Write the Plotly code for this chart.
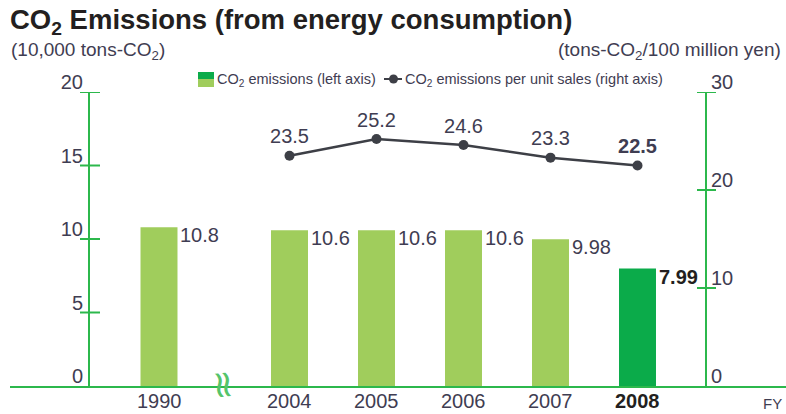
import plotly.graph_objects as go

# ---- data -------------------------------------------------------------
years = ["1990", "2004", "2005", "2006", "2007", "2008"]
emissions = [10.8, 10.6, 10.6, 10.6, 9.98, 7.99]          # 10,000 tons-CO2
intensity_years = ["2004", "2005", "2006", "2007", "2008"]
intensity = [23.5, 25.2, 24.6, 23.3, 22.5]                 # tons-CO2 / 100 million yen
left_ticks = [0, 5, 10, 15, 20]
right_ticks = [0, 10, 20, 30]

# ---- layout helpers ---------------------------------------------------
W, H = 786, 414
ML, MR, MT, MB = 10, 0, 92, 28
PW, PH = W - ML - MR, H - MT - MB


def px(x):
    return (x - ML) / PW


def py(y):
    return (H - MB - y) / PH


# 1990 sits apart from the consecutive years, with an axis break between
pos = {yr: (i + 0.5 if i > 0 else 0.0) for i, yr in enumerate(years)}
bar_x = [pos[y] for y in years]
line_x = [pos[y] for y in intensity_years]
BAR_W = 0.425

LIGHT = "#a0cd5c"
DARK = "#0bab4a"
AXIS = "#2cb84c"
TXT = "#3f3d52"
FONT = "Liberation Sans, Arial"

fig = go.Figure()

fig.add_trace(go.Bar(
    x=bar_x, y=emissions, width=BAR_W,
    marker=dict(color=[DARK if y == "2008" else LIGHT for y in years], line=dict(width=0)),
    showlegend=False, hoverinfo="skip",
))

fig.add_trace(go.Scatter(
    x=line_x, y=intensity, yaxis="y2", mode="lines+markers+text",
    line=dict(color="#3d3f46", width=2.5),
    marker=dict(color="#3d3f46", size=10),
    text=[f"<b>{v}</b>" if y == "2008" else f"{v}" for y, v in zip(intensity_years, intensity)],
    textposition="top center",
    textfont=dict(family=FONT, size=20, color=TXT),
    showlegend=False, hoverinfo="skip",
))

ann = []
# value labels beside the bars
for yr, v in zip(years, emissions):
    bold = yr == "2008"
    ann.append(dict(
        x=pos[yr] + BAR_W / 2, y=v, xref="x", yref="y",
        text=f"<b>{v}</b>" if bold else f"{v}", showarrow=False,
        xanchor="left", yanchor="top", xshift=1, yshift=5,
        font=dict(family=FONT, size=20, color="#231f20" if bold else TXT),
    ))

# category labels under the baseline
for yr in years:
    bold = yr == "2008"
    ann.append(dict(
        x=pos[yr], y=py(401), xref="x", yref="paper",
        text=f"<b>{yr}</b>" if bold else yr, showarrow=False,
        xanchor="center", yanchor="middle",
        font=dict(family=FONT, size=20, color="#231f20" if bold else TXT),
    ))
ann.append(dict(x=px(784), y=py(403), xref="paper", yref="paper", text="FY",
                showarrow=False, xanchor="right", yanchor="middle",
                font=dict(family=FONT, size=15, color=TXT)))

# axis-break mark
ann.append(dict(x=(pos["1990"] + pos["2004"]) / 2, y=py(385), xref="x", yref="paper",
                text="≈", textangle=84, showarrow=False,
                xanchor="center", yanchor="middle",
                font=dict(family="DejaVu Sans", size=38, color="#55c46a")))

# titles
ann.append(dict(x=px(8), y=py(22), xref="paper", yref="paper",
                text="<b>CO<sub>2</sub> Emissions (from energy consumption)</b>",
                showarrow=False, xanchor="left", yanchor="middle",
                font=dict(family=FONT, size=27.5, color="#231f20")))
ann.append(dict(x=px(9), y=py(51), xref="paper", yref="paper",
                text="(10,000 tons-CO<sub>2</sub>)", showarrow=False,
                xanchor="left", yanchor="middle",
                font=dict(family=FONT, size=19, color=TXT)))
ann.append(dict(x=px(783), y=py(51), xref="paper", yref="paper",
                text="(tons-CO<sub>2</sub>/100 million yen)", showarrow=False,
                xanchor="right", yanchor="middle",
                font=dict(family=FONT, size=19, color=TXT)))

# legend
ann.append(dict(x=px(215), y=py(80), xref="paper", yref="paper",
                text="CO<sub>2</sub> emissions (left axis)", showarrow=False,
                xanchor="left", yanchor="middle",
                font=dict(family=FONT, size=14.5, color=TXT)))
ann.append(dict(x=px(403), y=py(80), xref="paper", yref="paper",
                text="CO<sub>2</sub> emissions per unit sales (right axis)", showarrow=False,
                xanchor="left", yanchor="middle",
                font=dict(family=FONT, size=14.5, color=TXT)))

shapes = [
    dict(type="rect", xref="paper", yref="paper", x0=px(198), x1=px(214),
         y0=py(79), y1=py(72), fillcolor=DARK, line=dict(width=0)),
    dict(type="rect", xref="paper", yref="paper", x0=px(198), x1=px(214),
         y0=py(87), y1=py(79), fillcolor=LIGHT, line=dict(width=0)),
    dict(type="line", xref="paper", yref="paper", x0=px(384), x1=px(402),
         y0=py(79), y1=py(79), line=dict(color="#3d3f46", width=2)),
    dict(type="circle", xref="paper", yref="paper", x0=px(389), x1=px(398),
         y0=py(74.5), y1=py(83.5), fillcolor="#3d3f46", line=dict(width=0)),
]
# cross ticks on both value axes
for t in left_ticks[1:]:
    shapes.append(dict(type="line", xref="paper", yref="y", x0=px(80), x1=px(100),
                       y0=t, y1=t, line=dict(color=AXIS, width=2)))
for t in right_ticks[1:]:
    shapes.append(dict(type="line", xref="paper", yref="y2", x0=px(697), x1=px(716),
                       y0=t, y1=t, line=dict(color=AXIS, width=2)))

x_lo = (ML - 159) / 87
x_hi = (W - MR - 159) / 87

fig.update_layout(
    width=W, height=H,
    margin=dict(l=ML, r=MR, t=MT, b=MB, pad=0),
    paper_bgcolor="white", plot_bgcolor="white",
    showlegend=False,
    xaxis=dict(range=[x_lo, x_hi], showgrid=False, zeroline=False,
               showticklabels=False, ticks="", showline=True,
               linecolor=AXIS, linewidth=2, fixedrange=True),
    yaxis=dict(range=[0, 20], tickvals=left_ticks, anchor="free", position=px(89),
               showgrid=False, zeroline=False, showline=True, linecolor=AXIS,
               linewidth=2, ticks="", ticklabelshift=-10, ticklabelstandoff=1,
               tickfont=dict(family=FONT, size=20, color=TXT)),
    yaxis2=dict(range=[0, 30], tickvals=right_ticks, anchor="free", position=px(706),
                overlaying="y", side="right",
                showgrid=False, zeroline=False, showline=True, linecolor=AXIS,
                linewidth=2, ticks="", ticklabelshift=-10, ticklabelstandoff=0,
                tickfont=dict(family=FONT, size=20, color=TXT)),
    annotations=ann,
    shapes=shapes,
)

fig.write_html("out.html")
